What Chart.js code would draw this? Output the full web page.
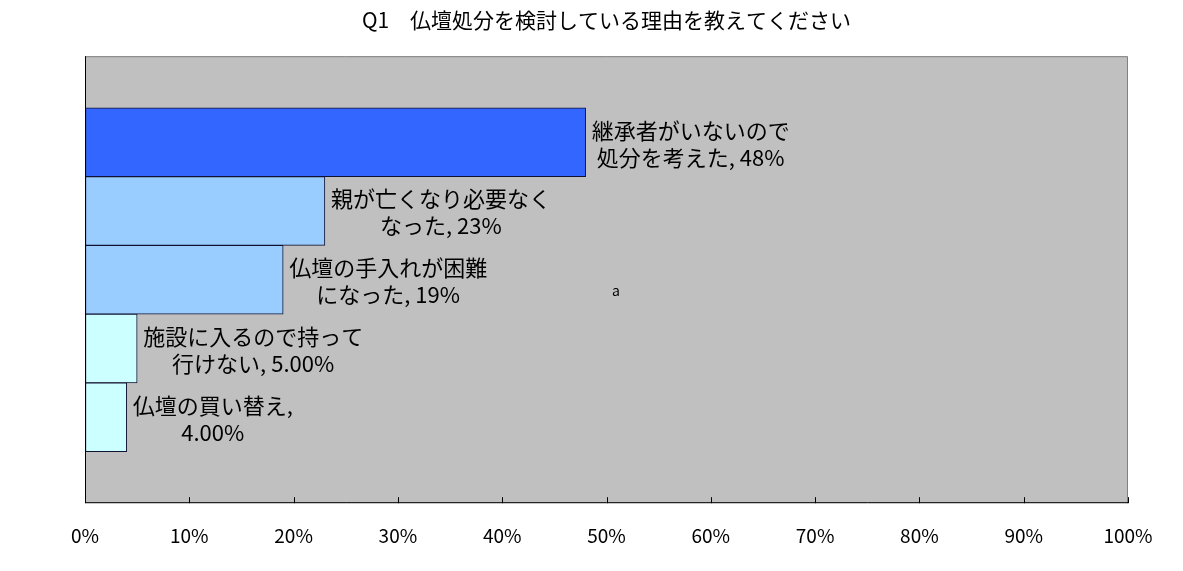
<!DOCTYPE html>
<html lang="ja">
<head>
<meta charset="utf-8">
<title>Q1 仏壇処分を検討している理由</title>
<script src="https://cdn.jsdelivr.net/npm/chart.js@4.4.1/dist/chart.umd.min.js"></script>
<style>
  html, body { margin: 0; padding: 0; background: #fff; }
  #wrap { width: 1183px; height: 571px; position: relative; }
</style>
</head>
<body>
<div id="wrap"><canvas id="chartCanvas"></canvas></div>
<script>
// データ
const categories = [
  '継承者がいないので処分を考えた',
  '親が亡くなり必要なくなった',
  '仏壇の手入れが困難になった',
  '施設に入るので持って行けない',
  '仏壇の買い替え'
];
const values = [48, 23, 19, 5, 4];
// バー横のラベル（2行）
const barLabels = [
  ['継承者がいないので', '処分を考えた, 48%'],
  ['親が亡くなり必要なく', 'なった, 23%'],
  ['仏壇の手入れが困難', 'になった, 19%'],
  ['施設に入るので持って', '行けない, 5.00%'],
  ['仏壇の買い替え,', '4.00%']
];
const barColors = ['#3366FF', '#99CCFF', '#99CCFF', '#CCFFFF', '#CCFFFF'];
const xTicks = [0, 10, 20, 30, 40, 50, 60, 70, 80, 90, 100];
const titleText = 'Q1　仏壇処分を検討している理由を教えてください';
const strayText = 'a';

const FONT = '"Noto Sans CJK JP", "Noto Sans", sans-serif';

// プロットエリアの背景と枠、内向きの目盛り
const plotFrame = {
  id: 'plotFrame',
  beforeDraw(chart) {
    const { ctx, chartArea: a } = chart;
    ctx.save();
    ctx.fillStyle = '#C0C0C0';
    ctx.fillRect(a.left, a.top, a.right - a.left, a.bottom - a.top);
    ctx.restore();
  },
  afterDatasetsDraw(chart) {
    const { ctx, chartArea: a, scales } = chart;
    ctx.save();
    ctx.lineWidth = 1;
    // 上・右は灰色
    ctx.strokeStyle = '#808080';
    ctx.beginPath();
    ctx.moveTo(a.left, a.top + 0.5);
    ctx.lineTo(a.right - 0.5, a.top + 0.5);
    ctx.lineTo(a.right - 0.5, a.bottom);
    ctx.stroke();
    // 左・下は黒
    ctx.strokeStyle = '#000';
    ctx.beginPath();
    ctx.moveTo(a.left + 0.5, a.top);
    ctx.lineTo(a.left + 0.5, a.bottom - 0.5);
    ctx.lineTo(a.right, a.bottom - 0.5);
    ctx.stroke();
    // 目盛り（内側へ）
    ctx.beginPath();
    xTicks.forEach(v => {
      const x = Math.round(scales.x.getPixelForValue(v)) + 0.5;
      ctx.moveTo(x, a.bottom);
      ctx.lineTo(x, a.bottom - 6);
    });
    ctx.stroke();
    ctx.restore();
  },
  afterDraw(chart) {
    const { ctx, scales } = chart;
    const meta = chart.getDatasetMeta(0);
    ctx.save();
    ctx.fillStyle = '#000';
    ctx.font = '22px ' + FONT;
    ctx.textAlign = 'center';
    ctx.textBaseline = 'middle';
    meta.data.forEach((bar, i) => {
      const lines = barLabels[i];
      const w = Math.max(...lines.map(s => ctx.measureText(s).width));
      const cx = bar.x + 6 + w / 2;
      ctx.fillText(lines[0], cx, bar.y - 12);
      ctx.fillText(lines[1], cx, bar.y + 15);
    });
    // 元画像にある小さな「a」
    ctx.font = '14px ' + FONT;
    ctx.fillText(strayText, scales.x.getPixelForValue(50.9), scales.y.getPixelForValue(2.16));
    ctx.restore();
  }
};

function createChart() {
  const ctx = document.getElementById('chartCanvas').getContext('2d');
  return new Chart(ctx, {
    type: 'bar',
    data: {
      datasets: [{
        label: '',
        data: values.map((v, i) => ({ x: v, y: i })),
        backgroundColor: barColors,
        borderColor: '#101030',
        borderWidth: 1,
        borderSkipped: false,
        barPercentage: 1,
        categoryPercentage: 1
      }]
    },
    options: {
      indexAxis: 'y',
      responsive: true,
      maintainAspectRatio: false,
      animation: false,
      layout: { padding: { left: 85, right: 55, top: 0, bottom: 3 } },
      plugins: {
        legend: { display: false },
        tooltip: { enabled: false },
        title: {
          display: true,
          text: titleText,
          color: '#000',
          font: { family: FONT, size: 21, weight: 'normal' },
          padding: { top: 7, bottom: 24 }
        }
      },
      scales: {
        x: {
          type: 'linear',
          min: 0,
          max: 100,
          afterBuildTicks: s => { s.ticks = xTicks.map(v => ({ value: v })); },
          ticks: {
            color: '#000',
            padding: 21,
            maxRotation: 0,
            autoSkip: false,
            font: { family: FONT, size: 19 },
            callback: v => v + '%'
          },
          grid: { drawOnChartArea: false, drawTicks: false },
          border: { display: false }
        },
        y: {
          type: 'linear',
          display: false,
          reverse: true,
          offset: false,
          min: -1.25,
          max: 5.25,
          afterBuildTicks: s => { s.ticks = categories.map((_, i) => ({ value: i })); }
        }
      }
    },
    plugins: [plotFrame]
  });
}

document.addEventListener('DOMContentLoaded', () => {
  createChart();
});
</script>
</body>
</html>
